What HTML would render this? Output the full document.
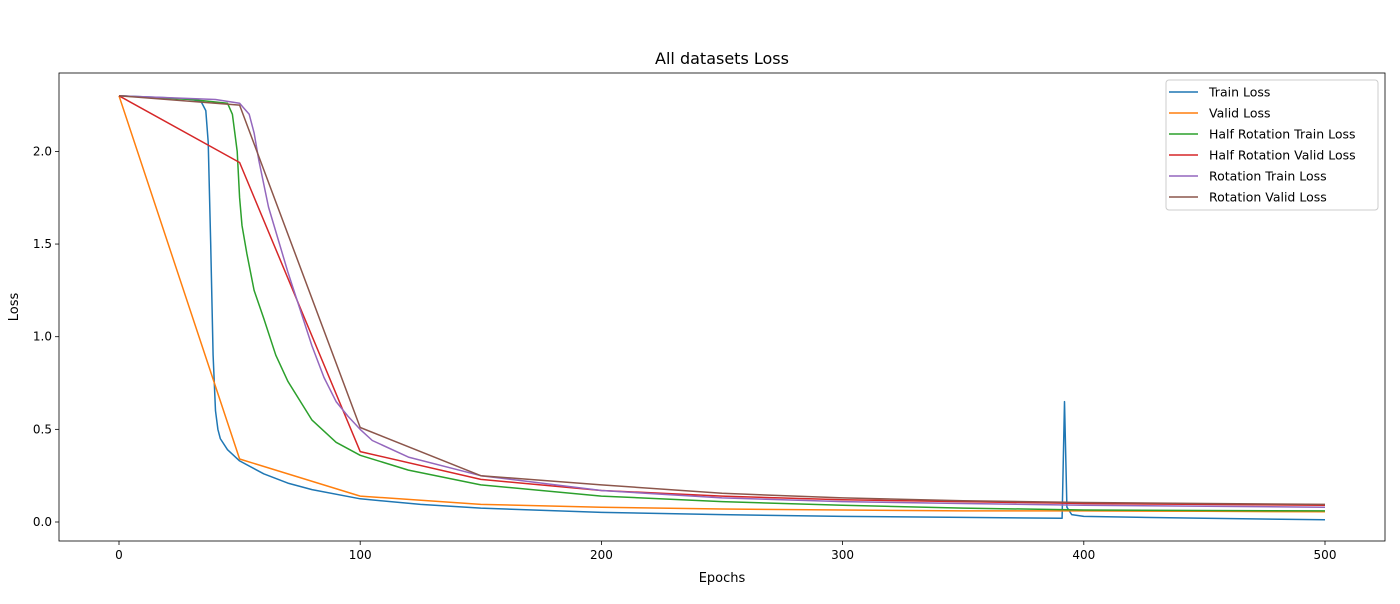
<!DOCTYPE html>
<html><head><meta charset="utf-8"><style>
body{margin:0;background:#fff;font-family:"DejaVu Sans","Liberation Sans",sans-serif}
svg text{font-family:"DejaVu Sans","Liberation Sans",sans-serif;fill:#000}
</style></head><body>
<svg id="chart" width="1400" height="600" xmlns="http://www.w3.org/2000/svg">
<rect width="1400" height="600" fill="#fff"/>
<text x="722" y="64" font-size="16" text-anchor="middle">All datasets Loss</text>
<text x="722" y="582" font-size="13" text-anchor="middle">Epochs</text>
<text x="18" y="307" font-size="13" text-anchor="middle" transform="rotate(-90 18 307)">Loss</text>
<g id="series"></g>
<g id="axes"></g>
<g id="legend"></g>
</svg>
<script>
const xTicks=[0,100,200,300,400,500];
const yTicks=[0.0,0.5,1.0,1.5,2.0];
const seriesNames=["Train Loss","Valid Loss","Half Rotation Train Loss","Half Rotation Valid Loss","Rotation Train Loss","Rotation Valid Loss"];
const colors=["#1f77b4","#ff7f0e","#2ca02c","#d62728","#9467bd","#8c564b"];
const trainX=[0,20,30,34,36,37,38,39,40,41,42,45,50,60,70,80,100,125,150,200,250,300,350,391,392,393,395,400,450,500];
const trainY=[2.30,2.29,2.28,2.27,2.22,2.05,1.5,0.9,0.6,0.5,0.45,0.39,0.33,0.26,0.21,0.175,0.125,0.095,0.075,0.052,0.04,0.03,0.025,0.02,0.65,0.08,0.04,0.03,0.02,0.012];
const validX=[0,50,100,150,200,250,300,350,400,450,500];
const validY=[2.30,0.34,0.14,0.095,0.08,0.07,0.065,0.06,0.06,0.058,0.055];
const hrTrainX=[0,30,45,47,49,50,51,53,56,60,65,70,80,90,100,120,150,200,250,300,350,400,500];
const hrTrainY=[2.30,2.28,2.26,2.2,2.0,1.75,1.6,1.45,1.25,1.1,0.9,0.76,0.55,0.43,0.36,0.28,0.2,0.14,0.11,0.09,0.075,0.065,0.06];
const hrValidX=[0,50,100,150,200,250,300,350,400,450,500];
const hrValidY=[2.30,1.94,0.38,0.23,0.17,0.14,0.12,0.11,0.10,0.095,0.09];
const rTrainX=[0,40,50,54,56,58,62,70,80,85,90,95,100,105,120,150,200,250,300,350,400,500];
const rTrainY=[2.30,2.28,2.26,2.2,2.1,1.95,1.7,1.35,0.95,0.78,0.65,0.57,0.5,0.44,0.35,0.25,0.17,0.13,0.11,0.1,0.09,0.08];
const rValidX=[0,50,100,150,200,250,300,350,400,450,500];
const rValidY=[2.30,2.25,0.51,0.25,0.20,0.155,0.13,0.115,0.105,0.1,0.095];
const allX=[trainX,validX,hrTrainX,hrValidX,rTrainX,rValidX];
const allY=[trainY,validY,hrTrainY,hrValidY,rTrainY,rValidY];

const L=59,R=1385,T=73,B=541;
const xs=v=>119+v*2.412;
const ys=v=>522-v*185.3;
const NS="http://www.w3.org/2000/svg";
function mk(tag,attrs,parent){const e=document.createElementNS(NS,tag);for(const k in attrs)e.setAttribute(k,attrs[k]);parent.appendChild(e);return e;}
const sg=document.getElementById('series');
const names=["train-loss-line","valid-loss-line","half-rotation-train-loss-line","half-rotation-valid-loss-line","rotation-train-loss-line","rotation-valid-loss-line"];
allX.forEach((xa,i)=>{
  const d=xa.map((x,j)=>(j?'L':'M')+xs(x).toFixed(1)+','+ys(allY[i][j]).toFixed(1)).join(' ');
  const p=mk('path',{d:d,fill:'none',stroke:colors[i],'stroke-width':1.5,'stroke-linejoin':'round'},sg);
  
  
});
const ag=document.getElementById('axes');
const fr=mk('rect',{x:L,y:T,width:R-L,height:B-T,fill:'none',stroke:'#000','stroke-width':0.8},ag);


xTicks.forEach(t=>{
  mk('line',{x1:xs(t),x2:xs(t),y1:B,y2:B+4,stroke:'#000','stroke-width':0.8},ag);
  const tx=mk('text',{x:xs(t),y:B+18,'font-size':12,'text-anchor':'middle'},ag);
  tx.textContent=t;
  
  
});
yTicks.forEach(t=>{
  mk('line',{x1:L-4,x2:L,y1:ys(t),y2:ys(t),stroke:'#000','stroke-width':0.8},ag);
  const tx=mk('text',{x:L-7,y:ys(t)+4,'font-size':12,'text-anchor':'end'},ag);
  tx.textContent=t.toFixed(1);
  
  
});
const lg=document.getElementById('legend');
mk('rect',{x:1166,y:80,width:212,height:130,rx:3,fill:'#fff','fill-opacity':0.8,stroke:'#ccc','stroke-width':1},lg);
seriesNames.forEach((n,i)=>{
  const y=92+i*21;
  const g=mk('g',{},lg);
  
  
  mk('line',{x1:1169,x2:1198,y1:y,y2:y,stroke:colors[i],'stroke-width':1.5},g);
  const tx=mk('text',{x:1209,y:y+4.5,'font-size':12.5},g);
  tx.textContent=n;
});
</script>
</body></html>
